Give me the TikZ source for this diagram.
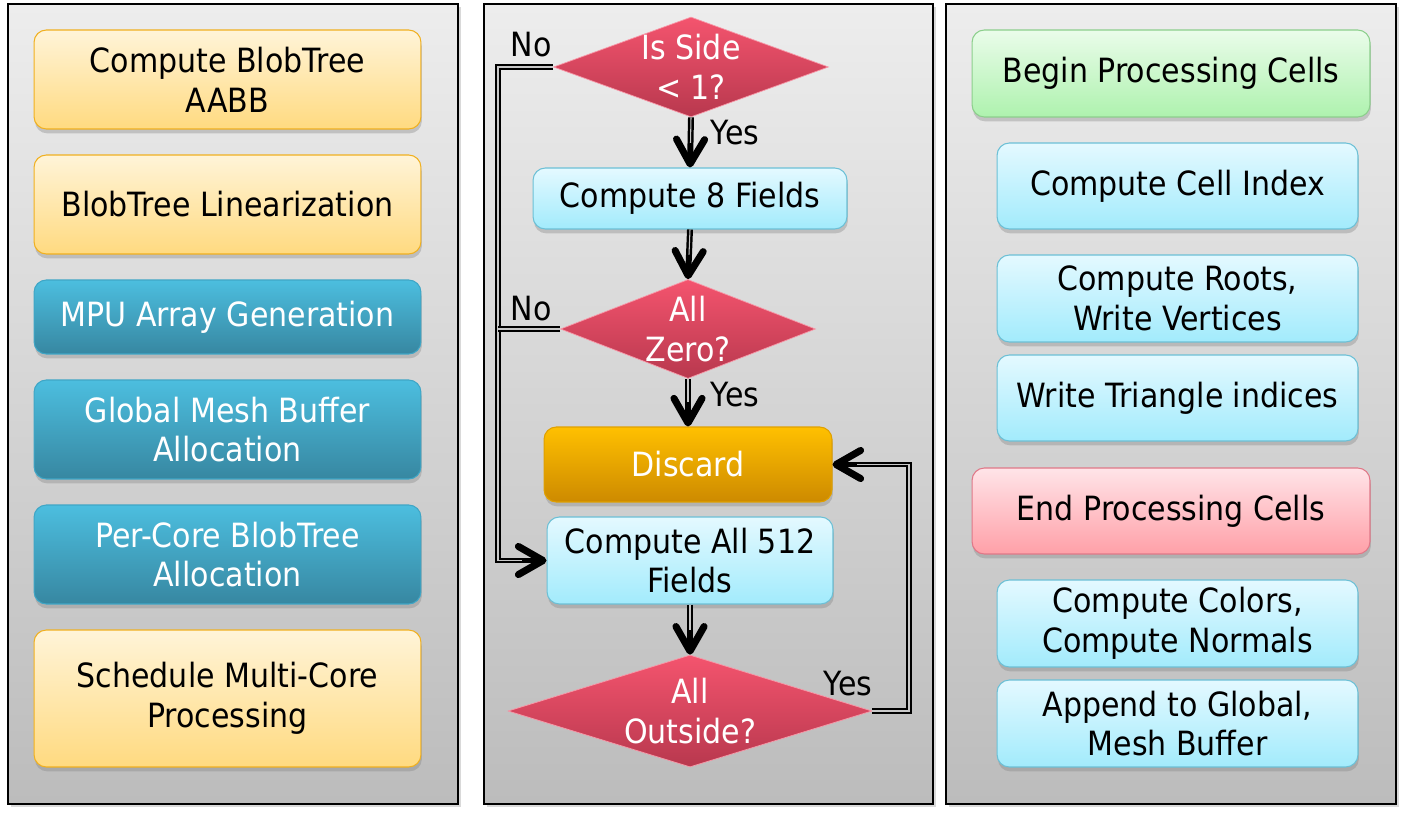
\documentclass[tikz,border=0pt]{standalone}
\usepackage{fontspec}
\setmainfont{DejaVu Sans}[FakeStretch=0.9]
\usetikzlibrary{shapes.geometric,arrows.meta,shadows}

\definecolor{panelTop}{HTML}{EDEDED}
\definecolor{panelBot}{HTML}{BCBCBC}
\definecolor{yellowTop}{HTML}{FFF4D8}
\definecolor{yellowBot}{HTML}{FFDA80}
\definecolor{yellowLine}{HTML}{F0B020}
\definecolor{blueTop}{HTML}{4CBEDF}
\definecolor{blueBot}{HTML}{3787A1}
\definecolor{blueLine}{HTML}{3FA6C6}
\definecolor{cyanTop}{HTML}{E4F9FF}
\definecolor{cyanBot}{HTML}{A2EBFC}
\definecolor{cyanLine}{HTML}{6CC0D6}
\definecolor{greenTop}{HTML}{EAFCEA}
\definecolor{greenBot}{HTML}{AEF2AE}
\definecolor{greenLine}{HTML}{8CCF8C}
\definecolor{pinkTop}{HTML}{FFE4E8}
\definecolor{pinkBot}{HTML}{FFA0A8}
\definecolor{pinkLine}{HTML}{E07888}
\definecolor{orangeTop}{HTML}{FFC000}
\definecolor{orangeBot}{HTML}{CD8A00}
\definecolor{orangeLine}{HTML}{E0A000}
\definecolor{redTop}{HTML}{F4546E}
\definecolor{redBot}{HTML}{B8384E}
\definecolor{railCore}{HTML}{C8C8C8}

\begin{document}
\begin{tikzpicture}[x=0.02cm, y=-0.02cm, thick]
	\tikzstyle{panel}=[draw=black, line width=0.6pt, top color=panelTop, bottom color=panelBot, drop shadow={shadow xshift=1.5pt, shadow yshift=-1.5pt, opacity=0.3}]
	\tikzstyle{box}=[rounded corners=7pt, line width=0.6pt, align=center, inner sep=0pt, font=\fontsize{19}{22.7}\selectfont, drop shadow={shadow xshift=0.5pt, shadow yshift=-2.5pt, opacity=0.35}]
	\tikzstyle{yellowbox}=[box, draw=yellowLine, top color=yellowTop, bottom color=yellowBot]
	\tikzstyle{bluebox}=[box, draw=blueLine, top color=blueTop, bottom color=blueBot, text=white]
	\tikzstyle{cyanbox}=[box, draw=cyanLine, top color=cyanTop, bottom color=cyanBot]
	\tikzstyle{greenbox}=[box, draw=greenLine, top color=greenTop, bottom color=greenBot]
	\tikzstyle{pinkbox}=[box, draw=pinkLine, top color=pinkTop, bottom color=pinkBot]
	\tikzstyle{orangebox}=[box, draw=orangeLine, top color=orangeTop, bottom color=orangeBot, text=white]
	\tikzstyle{test}=[diamond, inner sep=0pt, draw=redTop!60!white, line width=0.4pt, top color=redTop, bottom color=redBot]
	\tikzstyle{testtext}=[text=white, align=center, font=\fontsize{19}{22.7}\selectfont]
	\tikzstyle{answer}=[font=\fontsize{19}{22.7}\selectfont]
	% thick black line under a thin light core, solid chevron tip
	\tikzstyle{rail}=[draw=railCore, line width=0.6pt, preaction={draw=black, line width=3.4pt}]
	\tikzstyle{flow}=[draw=railCore, line width=0.6pt, shorten >=14pt, preaction={draw=black, line width=3.4pt, shorten >=0pt, -{Straight Barb[round, length=14pt, width=16pt, line width=4pt]}}]

	\useasboundingbox (0,0) rectangle (1405,817);

	% panels
	\path[panel] (8,4) rectangle (458,804);
	\path[panel] (484,4) rectangle (933,804);
	\path[panel] (946,4) rectangle (1396,804);

	% left column
	\node[yellowbox, minimum width=7.74cm, minimum height=1.98cm] (Setup-1) at (227.5,79.5) {Compute BlobTree\\AABB};
	\node[yellowbox, minimum width=7.74cm, minimum height=1.98cm] (Setup-2) at (227.5,204.5) {BlobTree Linearization};
	\node[bluebox, minimum width=7.74cm, minimum height=1.48cm] (Setup-3) at (227.5,317) {MPU Array Generation};
	\node[bluebox, minimum width=7.74cm, minimum height=1.98cm] (Setup-4) at (227.5,429.5) {Global Mesh Buffer\\Allocation};
	\node[bluebox, minimum width=7.74cm, minimum height=1.98cm] (Setup-5) at (227.5,554.5) {Per-Core BlobTree\\Allocation};
	\node[yellowbox, minimum width=7.74cm, minimum height=2.74cm] (Setup-6) at (227.5,698.5) {Schedule Multi-Core\\Processing};

	% middle column
	\node[test, minimum width=5.5cm, minimum height=2cm, label={[testtext]center:Is Side\\< 1?}] (Test-1) at (691,67) {};
	\node[cyanbox, minimum width=6.28cm, minimum height=1.22cm] (Fields-8) at (690,198.5) {Compute 8 Fields};
	\node[test, minimum width=5.1cm, minimum height=1.98cm, label={[testtext]center:All\\Zero?}] (Test-2) at (688,329) {};
	\node[orangebox, minimum width=5.76cm, minimum height=1.5cm] (Discard) at (688,464.5) {Discard};
	\node[cyanbox, minimum width=5.72cm, minimum height=1.74cm] (Fields-512) at (690,560.5) {Compute All 512\\Fields};
	\node[test, minimum width=7.28cm, minimum height=2.24cm, label={[testtext]center:All\\Outside?}] (Test-3) at (690,711) {};

	\coordinate (Rail-L) at (498,67);
	\coordinate (Rail-R) at (909,711);

	\draw[flow] (Test-1.south) -- (Fields-8.north);
	\draw[flow] (Fields-8.south) -- (Test-2.north);
	\draw[flow] (Test-2.south) -- (Discard.north);
	\draw[flow] (Fields-512.south) -- (Test-3.north);
	\draw[flow] (Test-1.west) -- (Rail-L) |- (Fields-512.west);
	\draw[rail] (Test-2.west) -- (Test-2.west -| Rail-L);
	\draw[flow] (Test-3.east) -- (Rail-R) |- (Discard.east);

	\node[answer] (No-1) at (531,45) {No};
	\node[answer] (No-2) at (531,309) {No};
	\node[answer] (Yes-1) at (735,133) {Yes};
	\node[answer] (Yes-2) at (735,395) {Yes};
	\node[answer] (Yes-3) at (848,684) {Yes};

	% right column
	\node[greenbox, minimum width=7.96cm, minimum height=1.74cm] (Cell-1) at (1171,73.5) {Begin Processing Cells};
	\node[cyanbox, minimum width=7.22cm, minimum height=1.72cm] (Cell-2) at (1177.5,186) {Compute Cell Index};
	\node[cyanbox, minimum width=7.22cm, minimum height=1.74cm] (Cell-3) at (1177.5,298.5) {Compute Roots,\\Write Vertices};
	\node[cyanbox, minimum width=7.22cm, minimum height=1.72cm] (Cell-4) at (1177.5,398) {Write Triangle indices};
	\node[pinkbox, minimum width=7.96cm, minimum height=1.72cm] (Cell-5) at (1171,511) {End Processing Cells};
	\node[cyanbox, minimum width=7.22cm, minimum height=1.74cm] (Cell-6) at (1177.5,623.5) {Compute Colors,\\Compute Normals};
	\node[cyanbox, minimum width=7.22cm, minimum height=1.74cm] (Cell-7) at (1177.5,723.5) {Append to Global,\\Mesh Buffer};
\end{tikzpicture}
\end{document}
